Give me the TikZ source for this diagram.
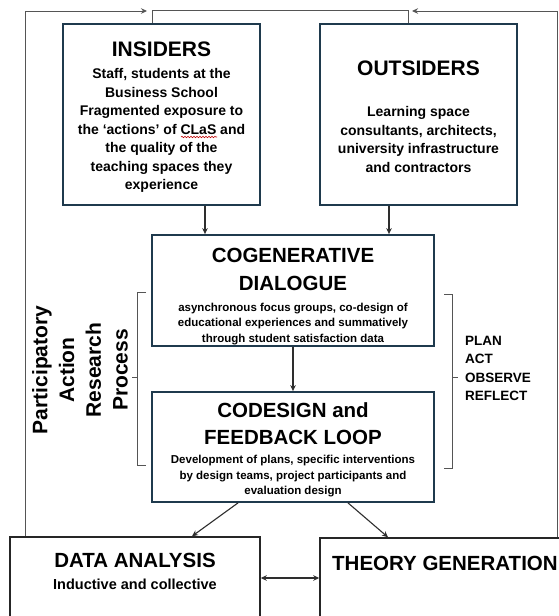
\documentclass[tikz,border=0pt]{standalone}
\usepackage{fontspec}
\setmainfont{Liberation Sans}
\usetikzlibrary{arrows.meta,calc,decorations.pathmorphing}
\definecolor{boxblue}{HTML}{1F3A4D}
\definecolor{linegray}{HTML}{2E2E2E}
\definecolor{outergray}{HTML}{555555}
\tikzset{
  bluebox/.style={draw=boxblue, line width=1.8pt, fill=white, minimum width=#1, inner sep=0pt},
  blackbox/.style={draw=black!85, line width=1.5pt, fill=white, inner sep=0pt},
  txt/.style={inner sep=0pt, align=center, font=\bfseries},
  arr/.style={draw=linegray, line width=1.1pt, -{Stealth[length=6pt,width=5.5pt]}},
  dblarr/.style={draw=linegray, line width=1.1pt, {Stealth[length=6pt,width=5.5pt]}-{Stealth[length=6pt,width=5.5pt]}},
  outer/.style={draw=outergray, line width=1pt},
  brk/.style={draw=outergray, line width=0.9pt},
  spell/.style={draw=red!75!black, line width=0.6pt, decorate, decoration={snake, amplitude=0.7pt, segment length=3pt}}
}
\begin{document}
\begin{tikzpicture}[x=1pt,y=-1pt]
\clip (0,0) rectangle (559,616);
\fill[white] (0,0) rectangle (559,616);
% boxes
\node[bluebox=197pt, minimum height=181pt] (ins) at (161.5,114.5) {};
\node[bluebox=197pt, minimum height=181pt] (out) at (418.5,114.5) {};
\node[bluebox=282pt, minimum height=111pt] (cog) at (293,290.5) {};
\node[bluebox=282pt, minimum height=110pt] (cod) at (293,447) {};
\node[blackbox, minimum width=250pt, minimum height=93pt] (data) at (135,583.5) {};
\node[blackbox, minimum width=250pt, minimum height=92pt] (theo) at (445,584) {};
% texts
\node[txt, font=\bfseries\fontsize{21}{24}\selectfont] (insT) at (161.5,49) {INSIDERS};
\node[txt, font=\bfseries\fontsize{14}{18.5}\selectfont] (insB) at (161.5,130.5) {Staff, students at the\\Business School\\Fragmented exposure to\\the ‘actions’ of CLaS and\\the quality of the\\teaching spaces they\\experience};
\draw[spell] (181,137) -- (217,137);
\node[txt, font=\bfseries\fontsize{21}{24}\selectfont] (outT) at (418.5,68) {OUTSIDERS};
\node[txt, font=\bfseries\fontsize{14}{18.5}\selectfont] (outB) at (418.5,139.5) {Learning space\\consultants, architects,\\university infrastructure\\and contractors};
\node[txt, font=\bfseries\fontsize{20.5}{28}\selectfont] (cogT) at (293,269) {COGENERATIVE\\DIALOGUE};
\node[txt, font=\bfseries\fontsize{11.5}{15.5}\selectfont] (cogB) at (293,324) {asynchronous focus groups, co-design of\\educational experiences and summatively\\through student satisfaction data};
\node[txt, font=\bfseries\fontsize{20.5}{27}\selectfont] (codT) at (293,423.5) {CODESIGN and\\FEEDBACK LOOP};
\node[txt, font=\bfseries\fontsize{11.5}{15.5}\selectfont] (codB) at (293,476.5) {Development of plans, specific interventions\\by design teams, project participants and\\evaluation design};
\node[txt, font=\bfseries\fontsize{20.5}{24}\selectfont] (dataT) at (135,560) {DATA ANALYSIS};
\node[txt, font=\bfseries\fontsize{14.5}{18}\selectfont] (dataB) at (135,584) {Inductive and collective};
\node[txt, anchor=west, font=\bfseries\fontsize{20.5}{24}\selectfont] (theoT) at (332,563) {THEORY GENERATION};
\node[txt, align=left, anchor=west, font=\bfseries\fontsize{13.5}{18.3}\selectfont] (pacr) at (465,368.5) {PLAN\\ACT\\OBSERVE\\REFLECT};
\node[txt, rotate=90, font=\bfseries\fontsize{21}{26.7}\selectfont] (par) at (80,370) {Participatory\\Action\\Research\\Process};
% connectors
\draw[arr] ([xshift=43.5]ins.south) -- ([xshift=43.5]ins.south |- cog.north);
\draw[arr] ([xshift=-29.5]out.south) -- ([xshift=-29.5]out.south |- cog.north);
\draw[arr] (cog.south) -- (cod.north);
\draw[arr] ([xshift=-55]cod.south) -- ([xshift=57]data.north);
\draw[arr] ([xshift=55]cod.south) -- ([xshift=-57]theo.north);
\draw[dblarr] ([yshift=5.5]data.east) -- ([yshift=5.5]data.east -| theo.west);
% top connections
\coordinate (ltip) at (147,11);
\coordinate (rtip) at (412,11);
\draw[outer] ([xshift=-9.5]ins.north) -- ++(0,-13) -| ([xshift=-10.5]out.north);
\draw[outer, -{Stealth[length=6pt,width=5.5pt]}] ([xshift=-110]data.north) |- (ltip);
\draw[outer, -{Stealth[length=6pt,width=5.5pt]}] ([xshift=112]theo.north) |- (rtip);
% brackets
\draw[brk] (146,292) -- (137,292) -- (137,465) -- (146,465);
\draw[brk] (137,377) -- (132,377);
\draw[brk] (444,294) -- (452,294) -- (452,468) -- (444,468);
\draw[brk] (452,377) -- (458,377);
\end{tikzpicture}
\end{document}
